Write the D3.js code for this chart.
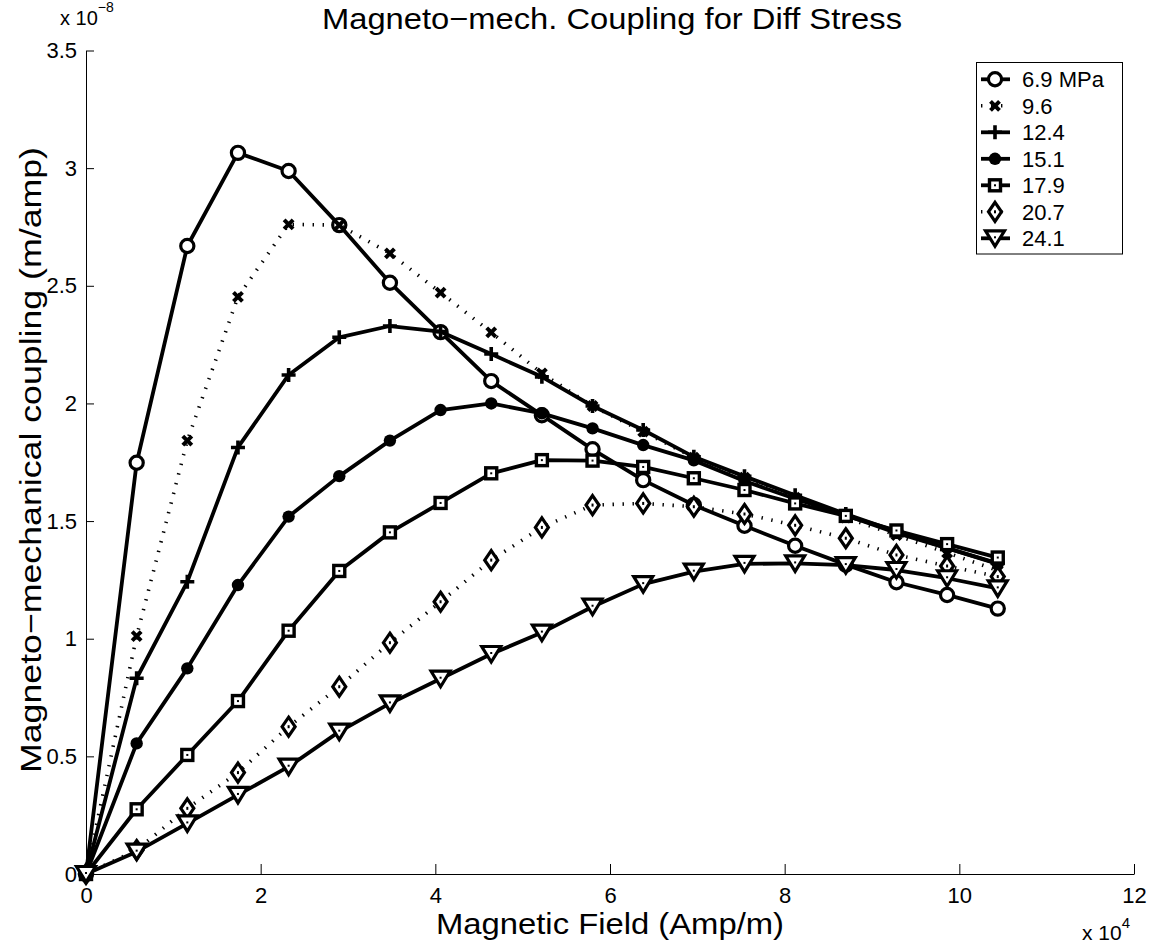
<!DOCTYPE html>
<html><head><meta charset="utf-8">
<script src="https://cdn.jsdelivr.net/npm/d3@7"></script>
<style>
body{margin:0;background:#fff}
svg{display:block}
text{font-family:"Liberation Sans",Arial,Helvetica,sans-serif;fill:#000}
</style>
</head><body>
<svg id="chart" width="1158" height="948"></svg>
<script>
// ---- data (x in units of 1e4 A/m, y in units of 1e-8 m/A) ----
const fieldX = [0, 0.58, 1.16, 1.74, 2.32, 2.90, 3.48, 4.06, 4.64, 5.22, 5.80, 6.38, 6.96, 7.54, 8.12, 8.70, 9.28, 9.86, 10.44];
const stress69  = [0, 1.748, 2.669, 3.065, 2.988, 2.758, 2.513, 2.303, 2.095, 1.950, 1.805, 1.674, 1.568, 1.480, 1.395, 1.315, 1.240, 1.186, 1.128];
const stress96  = [0, 1.011, 1.842, 2.453, 2.761, 2.758, 2.638, 2.471, 2.302, 2.128, 1.989, 1.880, 1.770, 1.685, 1.600, 1.515, 1.440, 1.365, 1.290];
const stress124 = [0, 0.832, 1.242, 1.813, 2.121, 2.281, 2.329, 2.305, 2.210, 2.113, 1.989, 1.887, 1.773, 1.690, 1.610, 1.530, 1.455, 1.385, 1.320];
const stress151 = [0, 0.555, 0.874, 1.228, 1.519, 1.691, 1.842, 1.972, 2.000, 1.958, 1.894, 1.823, 1.758, 1.670, 1.595, 1.525, 1.450, 1.385, 1.318];
const stress179 = [0, 0.275, 0.506, 0.735, 1.034, 1.288, 1.452, 1.577, 1.703, 1.759, 1.757, 1.730, 1.682, 1.632, 1.575, 1.522, 1.460, 1.402, 1.345];
const stress207 = [0, 0.102, 0.279, 0.431, 0.626, 0.796, 0.983, 1.157, 1.334, 1.473, 1.568, 1.575, 1.561, 1.530, 1.482, 1.427, 1.356, 1.309, 1.264];
const stress241 = [0, 0.095, 0.215, 0.336, 0.456, 0.605, 0.725, 0.830, 0.935, 1.026, 1.136, 1.232, 1.285, 1.318, 1.320, 1.313, 1.292, 1.257, 1.214];
const seriesLabels = ["6.9 MPa", "9.6", "12.4", "15.1", "17.9", "20.7", "24.1"];
const xTickValues = [0, 2, 4, 6, 8, 10, 12];
const xTickLabels = ["0", "2", "4", "6", "8", "10", "12"];
const yTickValues = [0, 0.5, 1, 1.5, 2, 2.5, 3, 3.5];
const yTickLabels = ["0", "0.5", "1", "1.5", "2", "2.5", "3", "3.5"];

const seriesValues = [stress69, stress96, stress124, stress151, stress179, stress207, stress241];
const markerTypes = ["o", "x", "+", ".", "s", "d", "v"];
const dottedSeries = [false, true, false, false, false, true, false];

// ---- layout ----
const svg = d3.select("#chart");
const x = d3.scaleLinear().domain([0, 12]).range([86, 1134]);
const y = d3.scaleLinear().domain([0, 3.5]).range([874, 50.5]);

const xAxis = d3.axisBottom(x).tickValues(xTickValues)
  .tickFormat((d, i) => xTickLabels[i]).tickSizeInner(-10).tickSizeOuter(0).tickPadding(13);
const yAxis = d3.axisLeft(y).tickValues(yTickValues)
  .tickFormat((d, i) => yTickLabels[i]).tickSizeInner(-8).tickSizeOuter(0).tickPadding(9);

const gx = svg.append("g").attr("transform", `translate(0,${y(0)})`).call(xAxis);
const gy = svg.append("g").attr("transform", `translate(${x(0)},0)`).call(yAxis);
[gx, gy].forEach(g => {
  g.attr("font-family", null).attr("font-size", 22);
  g.selectAll("path.domain").attr("stroke", "#000").attr("stroke-width", 1);
  g.selectAll(".tick line").attr("stroke", "#000").attr("stroke-width", 1);
  g.selectAll(".tick text").attr("fill", "#000");
});

const SW = 3.8;
function drawMarker(g, type, cx, cy) {
  const m = g.append("g").attr("transform", `translate(${cx},${cy})`);
  if (type === "o") {
    m.append("circle").attr("r", 6.6).attr("fill", "#fff").attr("stroke", "#000").attr("stroke-width", 3.2);
  } else if (type === "x") {
    m.append("path").attr("d", "M-4.5,-4.5L4.5,4.5M-4.5,4.5L4.5,-4.5").attr("stroke", "#000").attr("stroke-width", 4).attr("fill", "none");
  } else if (type === "+") {
    m.append("path").attr("d", "M-7,0H7M0,-7V7").attr("stroke", "#000").attr("stroke-width", 3.6).attr("fill", "none");
  } else if (type === ".") {
    m.append("circle").attr("r", 6.2).attr("fill", "#000");
  } else if (type === "s") {
    m.append("rect").attr("x", -5.5).attr("y", -5.5).attr("width", 11).attr("height", 11)
      .attr("fill", "#fff").attr("stroke", "#000").attr("stroke-width", 3.4);
    m.append("rect").attr("x", -1).attr("y", -1).attr("width", 2).attr("height", 2).attr("fill", "#000");
  } else if (type === "d") {
    m.append("path").attr("d", "M0,-9.5L6.5,0L0,9.5L-6.5,0Z").attr("fill", "#fff").attr("stroke", "#000").attr("stroke-width", 3.2);
    m.append("rect").attr("x", -1).attr("y", -1.5).attr("width", 2).attr("height", 3).attr("fill", "#000");
  } else if (type === "v") {
    m.append("path").attr("d", "M-9.5,-7.5L9.5,-7.5L0,8Z").attr("fill", "#fff").attr("stroke", "#000").attr("stroke-width", 3.2);
    m.append("rect").attr("x", -1).attr("y", -2).attr("width", 2).attr("height", 2).attr("fill", "#000");
  }
}

const line = d3.line().x((d, i) => x(fieldX[i])).y(d => y(d));
const plot = svg.append("g");
seriesValues.forEach((vals, si) => {
  const g = plot.append("g");
  g.append("path").datum(vals).attr("d", line)
    .attr("fill", "none").attr("stroke", "#000")
    .attr("stroke-width", dottedSeries[si] ? 3.6 : SW)
    .attr("stroke-linejoin", "round")
    .attr("stroke-dasharray", dottedSeries[si] ? "1.4,8.6" : null);
  vals.forEach((v, i) => drawMarker(g, markerTypes[si], x(fieldX[i]), y(v)));
});

// titles
svg.append("text").attr("x", 612).attr("y", 29).attr("text-anchor", "middle")
  .attr("font-size", 30).attr("textLength", 580).attr("lengthAdjust", "spacingAndGlyphs")
  .text("Magneto\u2212mech. Coupling for Diff Stress");
svg.append("text").attr("x", 610).attr("y", 934).attr("text-anchor", "middle")
  .attr("font-size", 30).attr("textLength", 348).attr("lengthAdjust", "spacingAndGlyphs")
  .text("Magnetic Field (Amp/m)");
svg.append("text").attr("transform", "translate(41,460) rotate(-90)").attr("text-anchor", "middle")
  .attr("font-size", 30).attr("textLength", 626).attr("lengthAdjust", "spacingAndGlyphs")
  .text("Magneto\u2212mechanical coupling (m/amp)");

// exponent labels
const e1 = svg.append("text").attr("x", 60).attr("y", 25).attr("font-size", 20);
e1.append("tspan").text("x 10");
e1.append("tspan").attr("font-size", 14).attr("dy", -13).text("\u22128");
const e2 = svg.append("text").attr("x", 1082).attr("y", 940).attr("font-size", 21);
e2.append("tspan").text("x 10");
e2.append("tspan").attr("font-size", 15).attr("dy", -12).text("4");

// legend
const lg = svg.append("g");
lg.append("rect").attr("x", 976.5).attr("y", 62.5).attr("width", 146).attr("height", 191.5)
  .attr("fill", "#fff").attr("stroke", "#000").attr("stroke-width", 1);
seriesLabels.forEach((lab, si) => {
  const ry = 79.3 + 26.5 * si;
  lg.append("line").attr("x1", 981).attr("x2", 1010).attr("y1", ry).attr("y2", ry)
    .attr("stroke", "#000").attr("stroke-width", dottedSeries[si] ? 3.6 : SW)
    .attr("stroke-dasharray", dottedSeries[si] ? "1.4,8.6" : null);
  drawMarker(lg, markerTypes[si], 995, ry);
  lg.append("text").attr("x", 1022).attr("y", ry).attr("dy", "0.36em").attr("font-size", 22).text(lab);
});
</script>
</body></html>
